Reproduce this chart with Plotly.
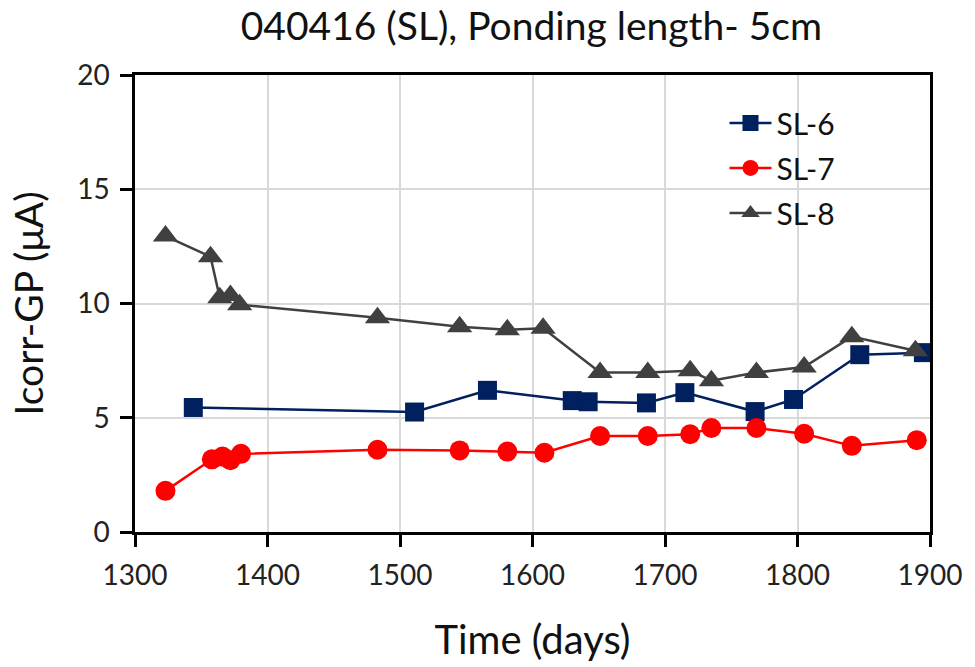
import plotly.graph_objects as go

# Measurement days and corrosion current (Icorr-GP, µA) per specimen
days_sl6 = [1344, 1511, 1566, 1630, 1642, 1686, 1715, 1768, 1797, 1847, 1895]
icorr_sl6 = [5.45, 5.25, 6.2, 5.75, 5.7, 5.65, 6.1, 5.27, 5.8, 7.76, 7.85]

days_sl7 = [1323, 1358, 1366, 1372, 1380, 1483, 1545, 1581, 1609, 1651, 1687,
            1719, 1735, 1769, 1805, 1841, 1890]
icorr_sl7 = [1.8, 3.18, 3.3, 3.14, 3.42, 3.6, 3.57, 3.52, 3.47, 4.2, 4.2,
             4.28, 4.55, 4.55, 4.3, 3.77, 4.02]

days_sl8 = [1323, 1357, 1364, 1372, 1379, 1483, 1545, 1581, 1608, 1651, 1687,
            1719, 1735, 1769, 1805, 1841, 1889]
icorr_sl8 = [12.95, 12.05, 10.25, 10.35, 9.95, 9.38, 8.98, 8.85, 8.92, 6.98, 6.98,
             7.06, 6.62, 6.98, 7.22, 8.55, 7.93]

x_ticks = [1300, 1400, 1500, 1600, 1700, 1800, 1900]
y_ticks = [0, 5, 10, 15, 20]

FONT = "Lato"

series = [
    ("SL-6", days_sl6, icorr_sl6, "#002060", "square", 19),
    ("SL-7", days_sl7, icorr_sl7, "#FF0000", "circle", 20),
    ("SL-8", days_sl8, icorr_sl8, "#404040", "triangle-up", 22),
]

fig = go.Figure()
for i, (name, xs, ys, color, symbol, size) in enumerate(series):
    fig.add_trace(go.Scatter(
        x=xs, y=ys, name=name, mode="lines+markers",
        line=dict(color=color, width=2.5),
        marker=dict(symbol=symbol, size=size, color=color),
        legendgroup=f"g{i}",
    ))

axis_common = dict(
    showline=True, linecolor="black", linewidth=2.5, mirror=True,
    ticks="outside", ticklen=12, tickwidth=2.5, tickcolor="black",
    showgrid=True, gridcolor="#d9d9d9", gridwidth=1.5,
    zeroline=False,
    tickfont=dict(family=FONT, size=28, color="#222222"),
    ticklabelstandoff=5,
)

fig.update_layout(
    width=975, height=667,
    margin=dict(l=135, r=45, t=75, b=133),
    paper_bgcolor="white", plot_bgcolor="white",
    title=dict(text="040416 (SL), Ponding length- 5cm", x=0.545, xanchor="center",
               y=0.96, yanchor="middle",
               font=dict(family=FONT, size=39, color="#111111")),
    xaxis=dict(range=[1300, 1900], tickvals=x_ticks,
               title=dict(text="Time (days)", font=dict(family=FONT, size=40, color="#111111"),
                          standoff=36),
               **axis_common),
    yaxis=dict(range=[0, 20], tickvals=y_ticks,
               title=dict(text="Icorr-GP (μA)", font=dict(family=FONT, size=39, color="#111111"),
                          standoff=22),
               **axis_common),
    legend=dict(x=0.7415, y=0.952, xanchor="left", yanchor="top",
                font=dict(family=FONT, size=30, color="#111111"),
                bgcolor="rgba(0,0,0,0)", tracegroupgap=3, traceorder="grouped",
                itemwidth=42),
    showlegend=True,
)

fig.write_html("out.html")
